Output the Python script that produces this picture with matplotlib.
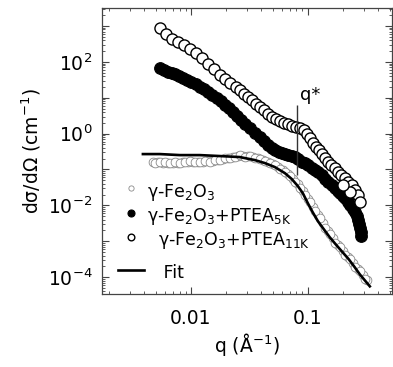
import matplotlib
matplotlib.use("Agg")
import matplotlib.pyplot as plt
from matplotlib.ticker import FixedLocator, FuncFormatter, LogLocator, NullFormatter
import numpy as np

plt.rcParams['font.family'] = ['DejaVu Sans']
plt.rcParams['mathtext.default'] = 'regular'

# gamma-Fe2O3 (grey open circles) - first pass of readings
q_fe = [0.00473, 0.00522, 0.00576, 0.00636, 0.00702, 0.00774, 0.00855, 0.00943, 0.0104, 0.0115,
        0.0127, 0.0140, 0.0154, 0.0170, 0.0188, 0.0207, 0.0229, 0.0252, 0.0278, 0.0307,
        0.0339, 0.0374, 0.0412, 0.0455, 0.0502, 0.0554, 0.0611, 0.0675, 0.0745, 0.0822,
        0.0906, 0.100, 0.110, 0.122, 0.134, 0.148, 0.164, 0.180, 0.199, 0.220,
        0.243, 0.267, 0.295, 0.319]
I_fe = [0.161, 0.161, 0.151, 0.151, 0.151, 0.151, 0.161, 0.161, 0.161, 0.161,
        0.161, 0.172, 0.172, 0.183, 0.196, 0.208, 0.222, 0.237, 0.237, 0.237,
        0.222, 0.208, 0.183, 0.161, 0.142, 0.117, 0.0962, 0.0744, 0.0540, 0.0391,
        0.0249, 0.0149, 0.00891, 0.00532, 0.00318, 0.00190, 0.00121, 7.73e-4, 5.26e-4, 3.57e-4,
        2.43e-4, 1.65e-4, 1.12e-4, 8.14e-5]
# gamma-Fe2O3 - second pass of readings (points in between)
q_fe2 = [4.97e-3, 5.49e-3, 6.05e-3, 6.68e-3, 7.37e-3, 8.13e-3, 8.97e-3, 9.90e-3, 0.01093, 0.01206,
         0.01330, 0.01468, 0.01620, 0.01787, 0.01972, 0.02176, 0.02401, 0.02649, 0.02922, 0.03225,
         0.03558, 0.03926, 0.04333, 0.04780, 0.05275, 0.05821, 0.06423, 0.07087, 0.07820, 0.08629,
         0.09520, 0.1051, 0.1159, 0.1279, 0.1411, 0.1557, 0.1718, 0.1896, 0.2092, 0.2308,
         0.2547, 0.2810, 0.3071]
I_fe2 = [0.1509, 0.1609, 0.1609, 0.1509, 0.1609, 0.1509, 0.1609, 0.1717, 0.1609, 0.1609,
         0.1717, 0.1609, 0.1831, 0.1831, 0.2082, 0.2082, 0.2220, 0.2525, 0.2220, 0.2367,
         0.2082, 0.1952, 0.1717, 0.1509, 0.1327, 0.1026, 0.0846, 0.0654, 0.0445, 0.0302,
         0.0193, 0.0123, 0.00689, 0.00439, 0.00231, 0.00157, 8.79e-4, 6.80e-4, 4.06e-4, 3.14e-4,
         1.88e-4, 1.45e-4, 8.68e-5]

# gamma-Fe2O3 + PTEA 5K (filled circles)
q_5k = [5.43e-3, 5.88e-3, 6.36e-3, 6.88e-3, 7.30e-3, 7.90e-3, 8.54e-3, 9.24e-3, 0.0100, 0.01104,
        0.01194, 0.01291, 0.01397, 0.01512, 0.01668, 0.01804, 0.01952, 0.02112, 0.02286, 0.02473,
        0.02675, 0.02894, 0.03193, 0.03524, 0.03888, 0.04206, 0.04551, 0.04924, 0.05223, 0.05651,
        0.05995, 0.06360, 0.06748, 0.07300, 0.07743, 0.08215, 0.08887, 0.09428, 0.1000, 0.1082,
        0.1148, 0.1218, 0.1318, 0.1398, 0.1483, 0.1604, 0.1701, 0.1805, 0.1877, 0.1991,
        0.2071, 0.2198, 0.2286, 0.2425, 0.2522, 0.2623, 0.2675, 0.2728, 0.2782, 0.2838, 0.2838]
I_5k = [68.0, 59.8, 52.6, 49.3, 46.2, 40.6, 35.7, 31.4, 27.6, 24.3,
        20.0, 17.6, 14.5, 11.97, 9.87, 8.14, 6.29, 5.19, 4.01, 3.10,
        2.40, 1.854, 1.434, 1.039, 0.804, 0.621, 0.480, 0.396, 0.348, 0.306,
        0.287, 0.269, 0.2525, 0.2367, 0.2220, 0.1952, 0.1609, 0.1509, 0.1327, 0.1094,
        0.0962, 0.0846, 0.0698, 0.0539, 0.0445, 0.0366, 0.0302, 0.0249, 0.0219, 0.0181,
        0.0159, 0.0123, 0.01013, 0.00783, 0.00646, 0.00499, 0.00386, 0.00298, 0.00231, 0.00178, 0.00138]

# gamma-Fe2O3 + PTEA 11K (black open circles)
q_11k = [5.43e-3, 6.11e-3, 6.88e-3, 7.74e-3, 8.71e-3, 9.80e-3, 0.01104, 0.01242, 0.01397, 0.01572,
         0.01769, 0.01952, 0.02154, 0.02424, 0.02623, 0.02838, 0.03070, 0.03322, 0.03594, 0.03888,
         0.04206, 0.04551, 0.04924, 0.05327, 0.05764, 0.06236, 0.06748, 0.07300, 0.07898, 0.08545,
         0.09244, 0.09806, 0.1040, 0.1103, 0.1170, 0.1242, 0.1318, 0.1398, 0.1483, 0.1573,
         0.1701, 0.1805, 0.1914, 0.2071, 0.2198, 0.2377, 0.2522, 0.2675, 0.2782, 0.2286, 0.1991]
I_11k = [890.6, 605.6, 439.1, 362.0, 298.5, 230.8, 178.4, 129.3, 87.9, 63.8,
         43.4, 33.5, 25.9, 20.0, 16.5, 12.77, 10.53, 8.68, 6.71, 5.53,
         4.56, 3.53, 2.91, 2.56, 2.25, 1.978, 1.854, 1.631, 1.529, 1.434,
         1.260, 0.975, 0.754, 0.546, 0.422, 0.348, 0.269, 0.208, 0.161, 0.1327,
         0.1094, 0.0846, 0.0698, 0.0575, 0.0445, 0.0366, 0.0266, 0.0193, 0.0123, 0.0234, 0.0366]

# Fit
q_fit = [0.00389, 0.00543, 0.00805, 0.0119, 0.0177, 0.0262, 0.0352, 0.0429, 0.0522, 0.0636,
         0.0730, 0.0822, 0.0906, 0.100, 0.110, 0.122, 0.137, 0.154, 0.173, 0.195,
         0.224, 0.252, 0.278, 0.307, 0.339]
I_fit = [0.269, 0.269, 0.252, 0.252, 0.237, 0.222, 0.183, 0.151, 0.117, 0.0793,
         0.0540, 0.0344, 0.0219, 0.0115, 0.00646, 0.00362, 0.00216, 0.00129, 8.24e-4, 5.26e-4,
         3.14e-4, 1.88e-4, 1.20e-4, 8.14e-5, 5.53e-5]

q_star = 0.0805
q_star_range = [0.069, 6.3]

labels = ['γ-Fe$_2$O$_3$', 'γ-Fe$_2$O$_3$+PTEA$_{5K}$', '  γ-Fe$_2$O$_3$+PTEA$_{11K}$', '   Fit']

fig = plt.figure(figsize=(3.93, 3.67), dpi=100)
ax = fig.add_axes([0.2595, 0.199, 0.738, 0.779])

h_fe, = ax.plot(np.concatenate([q_fe, q_fe2]), np.concatenate([I_fe, I_fe2]), linestyle='none',
                marker='o', ms=6.3, mfc='white', mec='#8a8a8a', mew=0.6, label=labels[0], zorder=2)
h_5k, = ax.plot(q_5k, I_5k, linestyle='none', marker='o', ms=8.4, mfc='black', mec='black', mew=0.8,
                label=labels[1], zorder=3)
h_11k, = ax.plot(q_11k, I_11k, linestyle='none', marker='o', ms=8.0, mfc='white', mec='black', mew=1.0,
                 label=labels[2], zorder=4)
h_fit, = ax.plot(q_fit, I_fit, color='black', lw=1.9, label=labels[3], zorder=5)

ax.vlines(q_star, q_star_range[0], q_star_range[1], color='#333333', lw=1.0, zorder=6)
ax.text(0.0855, 12, 'q*', fontsize=13, ha='left', va='center')

ax.set_xscale('log')
ax.set_yscale('log')
ax.set_xlim(10**-2.76, 10**-0.28)
ax.set_ylim(10**-4.47, 10**3.5)

ax.xaxis.set_major_locator(FixedLocator([0.01, 0.1]))
ax.xaxis.set_major_formatter(FuncFormatter(lambda v, p: {0.01: '0.01', 0.1: '0.1'}.get(round(v, 4), '')))
ax.xaxis.set_minor_locator(LogLocator(base=10, subs=np.arange(2, 10), numticks=20))
ax.xaxis.set_minor_formatter(NullFormatter())

ydec = [1e-4, 1e-3, 1e-2, 1e-1, 1e0, 1e1, 1e2, 1e3]
ax.yaxis.set_major_locator(FixedLocator(ydec))

def yfmt(v, p):
    e = int(round(np.log10(v)))
    return '$10^{%d}$' % e if e % 2 == 0 else ''

ax.yaxis.set_major_formatter(FuncFormatter(yfmt))
ax.yaxis.set_minor_locator(LogLocator(base=10, subs=np.arange(2, 10), numticks=20))
ax.yaxis.set_minor_formatter(NullFormatter())

ax.tick_params(which='both', direction='in', top=True, right=True, color='#444444')
ax.tick_params(which='major', length=5, width=0.8, labelsize=13.5)
ax.tick_params(axis='x', which='major', pad=11)
ax.tick_params(axis='y', which='major', pad=7)
ax.tick_params(which='minor', length=2.5, width=0.6)
for s in ax.spines.values():
    s.set_color('#444444')
    s.set_linewidth(0.9)

ax.set_xlabel('q (Å$^{-1}$)', fontsize=13.5, labelpad=2)
ax.set_ylabel('dσ/dΩ (cm$^{-1}$)', fontsize=13.5, labelpad=3)

leg_kw = dict(frameon=False, fontsize=12.5, markerscale=0.6, handlelength=1.5, handleheight=1.45,
              handletextpad=0.15, labelspacing=0.12, borderpad=0, borderaxespad=0)
leg1 = ax.legend([h_fe, h_5k, h_11k], labels[:3], loc='upper left', bbox_to_anchor=(0.055, 0.397), **leg_kw)
ax.add_artist(leg1)
ax.legend([h_fit], labels[3:], loc='center left', bbox_to_anchor=(0.055, 0.077), **leg_kw)

fig.savefig('out.png', dpi=100)
